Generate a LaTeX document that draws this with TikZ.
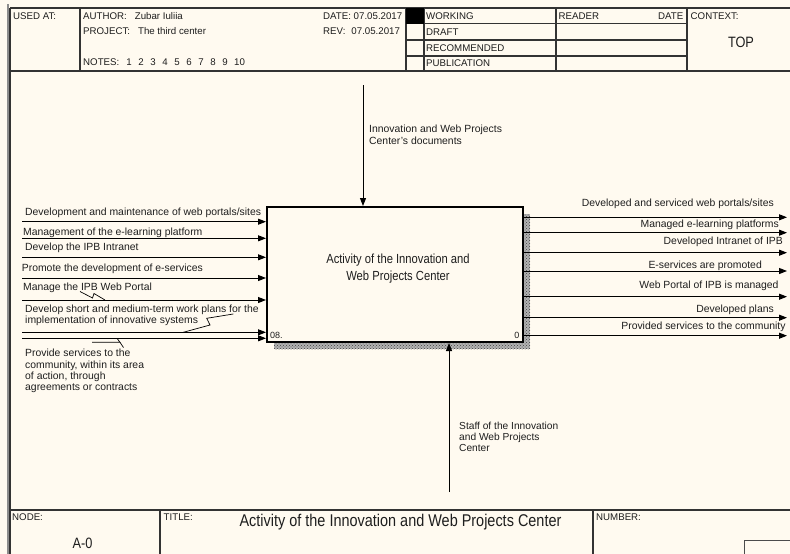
\documentclass[tikz,border=0pt]{standalone}
\usepackage{fontspec}
\setmainfont{Liberation Sans}
\newfontfamily\narrowfont[FakeStretch=0.85]{Liberation Sans}
\usetikzlibrary{arrows.meta,patterns}
\definecolor{paper}{HTML}{FFFAF0}
\definecolor{ink}{HTML}{1E1E1E}
\begin{document}
\begin{tikzpicture}[x=1pt,y=-1pt,
  lbl/.style={inner sep=0pt, anchor=base west, font=\fontsize{10.4}{11.5}\selectfont, text=ink},
  lblr/.style={lbl, anchor=base east},
  multl/.style={inner sep=0pt, anchor=north west, align=left, font=\fontsize{10.4}{11.3}\selectfont, text=ink},
  hdr/.style={inner sep=0pt, anchor=base west, font=\fontsize{9.7}{11}\selectfont, text=ink},
  big/.style={inner sep=0pt, text=ink},
  flow/.style={draw=black, line width=1pt, -{Triangle[length=8pt,width=6pt]}},
  frame/.style={draw=black!80, line width=1.2pt},
  squig/.style={draw=black, line width=0.7pt},
]
% page
\fill[paper] (0,0) rectangle (790,554);
\useasboundingbox (0,0) rectangle (790,554);
\begin{scope}
\clip (0,0) rectangle (790,554);

% outer frame
\draw[black!45, line width=2pt] (7.5,4) -- (7.5,554);
\draw[frame] (10,8) -- (800,8);
\draw[frame] (10,71) -- (800,71);
\draw[frame] (10,8) -- (10,560);
\draw[frame] (80,8) -- (80,71);
\draw[frame] (406,8) -- (406,71);
\draw[frame] (424,8) -- (424,71);
\draw[frame] (556,8) -- (556,71);
\draw[frame] (687,8) -- (687,71);
\draw[frame] (406,23.5) -- (687,23.5);
\draw[frame] (406,40) -- (687,40);
\draw[frame] (406,56) -- (687,56);
\fill[black] (406,8) rectangle (424,23.5);

% header texts
\node[hdr] (usedat) at (13,19.5) {USED AT:};
\node[hdr] (author) at (83,19.5) {AUTHOR:\hspace{8pt}Zubar Iuliia};
\node[hdr] (project) at (83,34.5) {PROJECT:\hspace{8pt}The third center};
\node[hdr] (notes) at (83,65.8) {NOTES:\hspace{7pt}1\hspace{6.6pt}2\hspace{6.6pt}3\hspace{6.6pt}4\hspace{6.6pt}5\hspace{6.6pt}6\hspace{6.6pt}7\hspace{6.6pt}8\hspace{6.6pt}9\hspace{6.6pt}10};
\node[hdr] (date) at (323,19.2) {DATE: 07.05.2017};
\node[hdr] (rev) at (323,34.5) {REV:\hspace{6pt}07.05.2017};
\node[hdr] (working) at (426,19.2) {WORKING};
\node[hdr] (draft) at (426,35.2) {DRAFT};
\node[hdr] (recom) at (426,51.2) {RECOMMENDED};
\node[hdr] (publ) at (426,66.2) {PUBLICATION};
\node[hdr] (reader) at (558.5,19.2) {READER};
\node[hdr, anchor=base east] (rdate) at (683.5,19.2) {DATE};
\node[hdr] (context) at (690.5,19.2) {CONTEXT:};
\node[big, font=\narrowfont\fontsize{15}{15}\selectfont] (top) at (741,42) {TOP};

% footer
\draw[frame] (10,510) -- (800,510);
\draw[frame] (160,510) -- (160,560);
\draw[frame] (593,510) -- (593,560);
\draw[draw=black!70, line width=1pt] (744,540) rectangle (800,560);
\node[hdr] (nodelbl) at (12,520.5) {NODE:};
\node[big, font=\narrowfont\fontsize{15}{15}\selectfont] (nodeno) at (82.5,543.5) {A-0};
\node[hdr] (titlelbl) at (163.5,520.5) {TITLE:};
\node[big, font=\narrowfont\fontsize{17}{17}\selectfont] (title) at (400.5,522.5) {Activity of the Innovation and Web Projects Center};
\node[hdr] (numberlbl) at (596,520.5) {NUMBER:};

% activity box with hatched shadow
\fill[black!30] (274,214) rectangle (530,349);
\fill[pattern=crosshatch dots, pattern color=black!75] (274,214) rectangle (530,349);
\node[draw=black, line width=2pt, fill=paper, minimum width=256pt, minimum height=135pt,
      inner sep=0pt, anchor=north west] (A0) at (266,206) {};
\node[big, align=center, font=\narrowfont\fontsize{13.2}{17}\selectfont] (A0label) at (398,269)
  {Activity of the Innovation and\\Web Projects Center};
\node[inner sep=0pt, anchor=base west, font=\fontsize{9}{9}\selectfont, text=ink] (A0code) at (270,338) {08.};
\node[inner sep=0pt, anchor=base east, font=\fontsize{9}{9}\selectfont, text=ink] (A0num) at (519.5,338) {0};

% control
\coordinate (c1) at (363,85);
\draw[flow] (c1) -- (c1 |- A0.north);
\node[multl] (c1lbl) at (369,125) {Innovation and Web Projects\\Center's documents};

% mechanism
\coordinate (m1) at (449,492);
\draw[flow] (m1) -- (m1 |- A0.south);
\node[multl, font=\fontsize{10.2}{11}\selectfont] (m1lbl) at (459,422) {Staff of the Innovation\\and Web Projects\\Center};

% inputs
\coordinate (i1) at (22,221.7);
\coordinate (i2) at (22,238.3);
\coordinate (i3) at (22,257.3);
\coordinate (i4) at (22,278);
\coordinate (i5) at (22,300);
\coordinate (i6) at (22,332.3);
\coordinate (i7) at (22,338.3);
\foreach \k in {1,...,7} {\draw[flow] (i\k) -- (i\k -| A0.west);}
\node[lbl] (i1lbl) at (25,215.2) {Development and maintenance of web portals/sites};
\node[lbl] (i2lbl) at (23,235.2) {Management of the e-learning platform};
\node[lbl] (i3lbl) at (25,250.2) {Develop the IPB Intranet};
\node[lbl] (i4lbl) at (21.7,271.5) {Promote the development of e-services};
\node[lbl] (i5lbl) at (23,290.2) {Manage the IPB Web Portal};
\node[multl] (i6lbl) at (25,304.5) {Develop short and medium-term work plans for the\\implementation of innovative systems};
\node[multl] (i7lbl) at (25,349.2) {Provide services to the\\community, within its area\\of action, through\\agreements or contracts};

% label leaders
\draw[squig] (80,291.5) -- (92.5,298) -- (94,293.5) -- (105,300);
\draw[squig] (233.3,314) -- (206.7,318.3) -- (210,325) -- (183.3,332.3);
\draw[squig] (92,342.3) -- (120,342.3) -- (117,338.3);
\draw[squig] (120,342.3) -- (123.5,347.5);

% outputs
\coordinate (o1) at (787,217.3);
\coordinate (o2) at (787,232.7);
\coordinate (o3) at (787,252.7);
\coordinate (o4) at (787,271);
\coordinate (o5) at (787,296.7);
\coordinate (o6) at (787,317.7);
\coordinate (o7) at (787,335.7);
\foreach \k in {1,...,7} {\draw[flow] (o\k -| A0.east) -- (o\k);}
\node[lblr] (o1lbl) at (774,206.2) {Developed and serviced web portals/sites};
\node[lblr] (o2lbl) at (779,227.8) {Managed e-learning platforms};
\node[lblr] (o3lbl) at (783,244.2) {Developed Intranet of IPB};
\node[lblr] (o4lbl) at (762,268.5) {E-services are promoted};
\node[lblr] (o5lbl) at (778.7,288.5) {Web Portal of IPB is managed};
\node[lblr] (o6lbl) at (774,312.8) {Developed plans};
\node[lblr] (o7lbl) at (785.7,329.5) {Provided services to the community};
\end{scope}
\end{tikzpicture}
\end{document}
